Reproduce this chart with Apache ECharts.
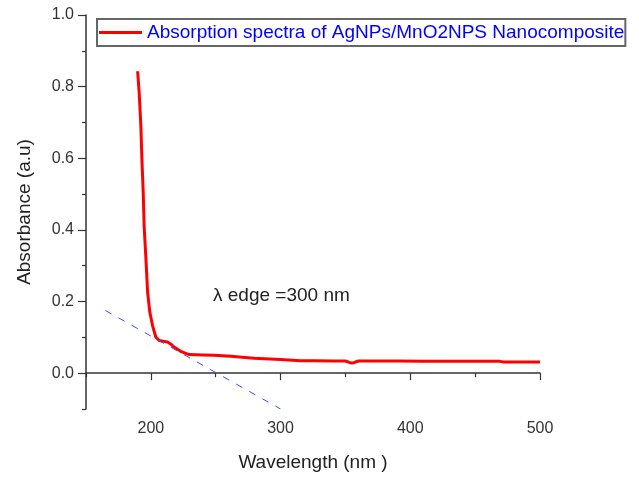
<!DOCTYPE html>
<html>
<head>
<meta charset="utf-8">
<script src="https://cdn.jsdelivr.net/npm/echarts@6/dist/echarts.min.js"></script>
<style>
  html, body { margin: 0; padding: 0; background: #fff; }
  #chart { width: 639px; height: 477px; }
</style>
</head>
<body>
<div id="chart"></div>
<script>
// UV-Vis absorption spectrum of the AgNPs/MnO2NPs nanocomposite
const wavelength = [189.8, 191.0, 192.3, 193.1, 194.1, 194.8, 196.2, 197.5, 199.2, 201.3,
  203.8, 206.4, 209.5, 212.8, 215.5, 217.9, 223, 229.5, 240, 248.7, 261.5, 279.5, 300,
  315, 325.6, 341, 350, 353, 355, 357, 360, 372, 390, 410, 430, 450, 469, 472, 485, 500];
const absorbance = [0.843, 0.783, 0.690, 0.597, 0.505, 0.412, 0.319, 0.226, 0.170, 0.133,
  0.101, 0.091, 0.089, 0.087, 0.081, 0.073, 0.061, 0.052, 0.051, 0.050, 0.047, 0.042, 0.038,
  0.035, 0.035, 0.034, 0.034, 0.030, 0.028, 0.030, 0.034, 0.034, 0.034, 0.033, 0.033, 0.033,
  0.033, 0.031, 0.031, 0.031];

// Tangent drawn along the absorption edge
const tangentX = [165, 300];
const tangentY = [0.175, -0.1];

// Axis ticks
const xMajorTicks = [200, 300, 400, 500];
const xMinorTicks = [150, 250, 350, 450];
const yMajorTicks = [0.0, 0.2, 0.4, 0.6, 0.8, 1.0];
const yMinorTicks = [-0.1, 0.1, 0.3, 0.5, 0.7, 0.9];

const seriesName = 'Absorption spectra of AgNPs/MnO2NPS Nanocomposite';
const edgeLabel = '\u03BB edge =300 nm';

const FONT = 'Liberation Sans, Arial, sans-serif';
const AXIS_COLOR = '#333';

const chart = echarts.init(document.getElementById('chart'), null, { renderer: 'canvas' });

const baseAxis = { type: 'value', splitLine: { show: false } };

chart.setOption({
  backgroundColor: '#fff',
  animation: false,
  grid: { left: 86, right: 99, top: 15, bottom: 66 },
  legend: {
    data: [seriesName],
    left: 97, top: 19,
    backgroundColor: '#fff',
    borderColor: '#666', borderWidth: 2, borderRadius: 0,
    padding: [4, 1, 4, 2],
    itemWidth: 43, itemHeight: 3, itemGap: 5, icon: 'rect',
    textStyle: { color: '#0000ff', fontSize: 19, fontFamily: FONT, padding: [0, 0, 0, 0] }
  },
  xAxis: [
    Object.assign({}, baseAxis, {
      min: 150, max: 500,
      name: 'Wavelength (nm )', nameLocation: 'middle', nameGap: 44,
      nameTextStyle: { fontSize: 19, color: '#222', fontFamily: FONT },
      axisLine: { lineStyle: { color: AXIS_COLOR, width: 1.5 } },
      axisTick: { customValues: xMajorTicks, length: 7, lineStyle: { color: AXIS_COLOR, width: 1.2 } },
      axisLabel: { customValues: xMajorTicks, margin: 12, fontSize: 16, color: '#333', fontFamily: FONT }
    }),
    Object.assign({}, baseAxis, {
      min: 150, max: 500, position: 'bottom',
      axisLine: { show: false },
      axisTick: { customValues: xMinorTicks, length: 4, lineStyle: { color: AXIS_COLOR, width: 1.2 } },
      axisLabel: { show: false }
    })
  ],
  yAxis: [
    Object.assign({}, baseAxis, {
      min: -0.1, max: 1.0,
      name: 'Absorbance (a.u)', nameLocation: 'middle', nameGap: 52,
      nameTextStyle: { fontSize: 19, color: '#222', fontFamily: FONT },
      axisLine: { show: true, lineStyle: { color: AXIS_COLOR, width: 1.5 } },
      axisTick: { show: true, customValues: yMajorTicks, length: 8, lineStyle: { color: AXIS_COLOR, width: 1.2 } },
      axisLabel: { customValues: yMajorTicks, margin: 12, fontSize: 16, color: '#333', fontFamily: FONT,
        formatter: v => v.toFixed(1) }
    }),
    Object.assign({}, baseAxis, {
      min: -0.1, max: 1.0, position: 'left',
      axisLine: { show: false },
      axisTick: { show: true, customValues: yMinorTicks, length: 4, lineStyle: { color: AXIS_COLOR, width: 1.2 } },
      axisLabel: { show: false }
    })
  ],
  graphic: [{
    type: 'text', left: 213, top: 286,
    style: { text: edgeLabel, fill: '#222', font: '19px ' + FONT }
  }],
  series: [
    {
      name: 'tangent', type: 'line', xAxisIndex: 0, yAxisIndex: 0,
      data: tangentX.map((x, i) => [x, tangentY[i]]),
      showSymbol: false, silent: true,
      lineStyle: { color: '#4545ff', width: 1, type: [7, 8] },
      z: 3
    },
    {
      name: seriesName, type: 'line', xAxisIndex: 0, yAxisIndex: 0,
      data: wavelength.map((x, i) => [x, absorbance[i]]),
      showSymbol: false,
      itemStyle: { color: '#ff0000' },
      lineStyle: { color: '#ff0000', width: 3 },
      z: 2
    }
  ]
});
</script>
</body>
</html>
